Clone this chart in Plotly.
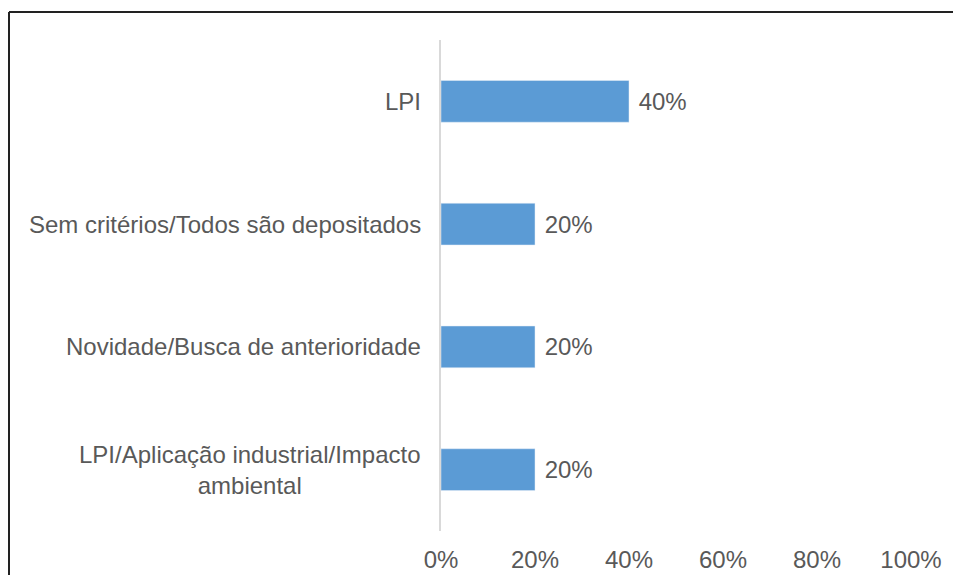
import plotly.graph_objects as go

categorias = [
    "LPI",
    "Sem critérios/Todos são depositados",
    "Novidade/Busca de anterioridade",
    "LPI/Aplicação industrial/Impacto<br>ambiental",
]
valores = [0.40, 0.20, 0.20, 0.20]
ticks = [0, 0.2, 0.4, 0.6, 0.8, 1.0]
tick_labels = ["0%", "20%", "40%", "60%", "80%", "100%"]

cinza = "#595959"
fonte = "Liberation Sans, Arial, sans-serif"
tam = 24

fig = go.Figure(go.Bar(
    x=valores,
    y=categorias,
    orientation="h",
    marker=dict(color="#5B9BD5"),
    texttemplate="\u00a0%{x:.0%}",
    textposition="outside",
    textfont=dict(family=fonte, size=tam, color=cinza),
    cliponaxis=False,
))

# category labels as annotations so the wrapped one is centred
for c in categorias:
    fig.add_annotation(
        x=0, y=c, xref="paper", yref="y",
        text=c, showarrow=False, xanchor="right", align="center",
        xshift=-18, font=dict(family=fonte, size=tam, color=cinza),
    )

# plot area in figure px: x 433..903, y 32..523
px_l, px_w, px_b, px_h = 433, 470, 523, 491
# frame (top and left edges of the original border)
fig.add_shape(type="line", xref="paper", yref="paper",
              x0=(1 - px_l) / px_w, x1=(960 - px_l) / px_w,
              y0=(px_b - 4) / px_h, y1=(px_b - 4) / px_h,
              line=dict(color="#222", width=2))
fig.add_shape(type="line", xref="paper", yref="paper",
              x0=(1 - px_l) / px_w, x1=(1 - px_l) / px_w,
              y0=(px_b - 4) / px_h, y1=(px_b - 600) / px_h,
              line=dict(color="#222", width=2))

fig.update_layout(
    width=945, height=567,
    margin=dict(l=433, r=42, t=32, b=44),
    paper_bgcolor="white", plot_bgcolor="white",
    bargap=0.66,
    showlegend=False,
    xaxis=dict(
        range=[0, 1], tickvals=ticks, ticktext=tick_labels,
        showgrid=False, zeroline=False, showline=False,
        ticks="", ticklabelstandoff=12, automargin=False,
        tickfont=dict(family=fonte, size=tam, color=cinza),
    ),
    yaxis=dict(
        autorange="reversed", showticklabels=False, automargin=False,
        showgrid=False, zeroline=False,
        showline=True, linecolor="#d9d9d9", linewidth=2, ticks="",
    ),
)

fig.write_html("out.html")
